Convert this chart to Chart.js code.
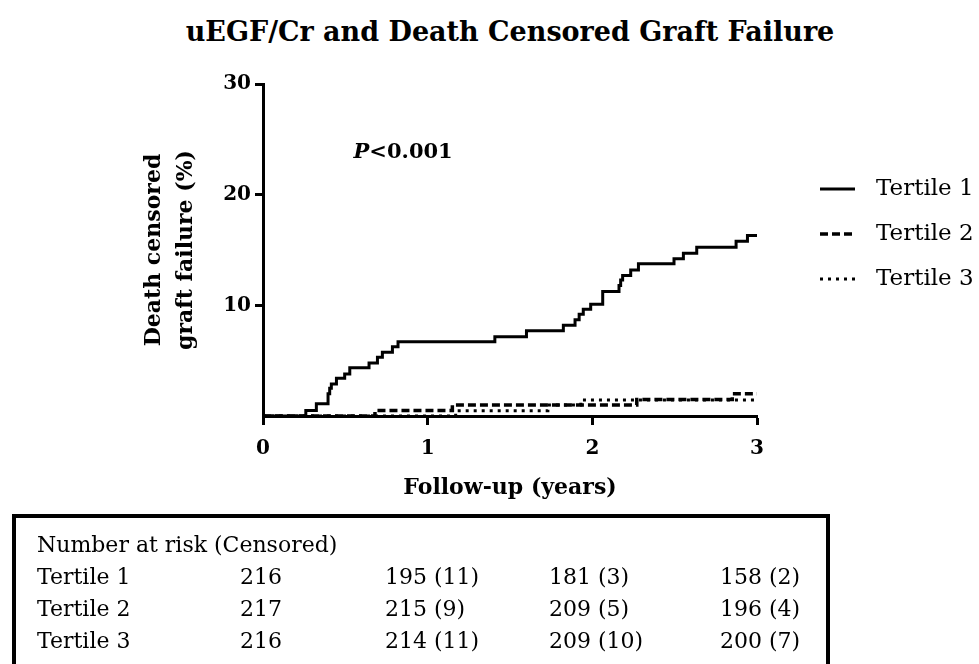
<!DOCTYPE html>
<html>
<head>
<meta charset="utf-8">
<script src="https://cdn.jsdelivr.net/npm/chart.js@4.4.1/dist/chart.umd.min.js"></script>
<style>
    html, body { margin: 0; padding: 0; background: #fff; overflow: hidden; }
    #wrap { position: relative; width: 979px; height: 664px; font-family: "DejaVu Serif", serif; color: #000; }
    #chartBox { position: absolute; left: 0; top: 0; width: 979px; height: 664px; }
    #title { position: absolute; left: 0; top: 17px; width: 1020px; text-align: center; font-weight: bold; font-size: 27px; line-height: 30px; }
    #riskBox { position: absolute; left: 12px; top: 514px; width: 810px; height: 200px; border: 4px solid #000; }
    .cell { position: absolute; font-size: 22px; line-height: 26px; white-space: nowrap; }
</style>
</head>
<body>
<div id="wrap">
    <div id="title">uEGF/Cr and Death Censored Graft Failure</div>
    <div id="chartBox"><canvas id="kmChart"></canvas></div>
    <div id="riskBox"></div>
</div>
<script>
// Kaplan-Meier steps: time (years) and cumulative failure (%)
const seriesNames = ["Tertile 1", "Tertile 2", "Tertile 3"];

const tertile1Times = [0, 0.26, 0.324, 0.395, 0.405, 0.415, 0.446, 0.496, 0.527, 0.644, 0.695, 0.725, 0.786, 0.82,
    1.408, 1.60, 1.824, 1.895, 1.92, 1.945, 1.99, 2.063, 2.162, 2.172, 2.184, 2.233, 2.28, 2.496, 2.553, 2.634,
    2.873, 2.942, 3.0];
const tertile1Values = [0, 0.5, 1.1, 2.0, 2.5, 2.9, 3.4, 3.8, 4.35, 4.8, 5.3, 5.75, 6.25, 6.7,
    7.15, 7.7, 8.2, 8.7, 9.2, 9.65, 10.1, 11.25, 11.8, 12.3, 12.7, 13.2, 13.75, 14.2, 14.7, 15.25,
    15.8, 16.3, 16.3];

const tertile2Times = [0, 0.68, 1.15, 2.27, 2.85, 3.0];
const tertile2Values = [0, 0.5, 1.0, 1.5, 2.0, 2.0];

const tertile3Times = [0, 1.17, 1.73, 1.93, 3.0];
const tertile3Values = [0, 0.48, 1.0, 1.45, 1.45];

const xTickValues = [0, 1, 2, 3];
const yTickValues = [10, 20, 30];
const pValueText = ["P", "<0.001"];
const pValueAt = { x: 0.55, y: 23.8 };

// number at risk table
const riskHeader = "Number at risk (Censored)";
const riskTertile1 = ["216", "195 (11)", "181 (3)", "158 (2)"];
const riskTertile2 = ["217", "215 (9)", "209 (5)", "196 (4)"];
const riskTertile3 = ["216", "214 (11)", "209 (10)", "200 (7)"];

const fontFamily = "'DejaVu Serif', serif";

function toPoints(times, values) {
    return times.map((t, i) => ({ x: t, y: values[i] }));
}

function buildRiskTable() {
    const box = document.getElementById("riskBox");
    const colLeft = [21, 224, 369, 533, 704];
    const rowTop = [14, 46, 78, 110];
    const rows = [
        [riskHeader],
        [seriesNames[0], ...riskTertile1],
        [seriesNames[1], ...riskTertile2],
        [seriesNames[2], ...riskTertile3],
    ];
    rows.forEach((row, r) => {
        row.forEach((text, c) => {
            const cell = document.createElement("div");
            cell.className = "cell";
            cell.style.left = `${colLeft[c]}px`;
            cell.style.top = `${rowTop[r]}px`;
            cell.textContent = text;
            box.appendChild(cell);
        });
    });
}

const datasetStyles = [
    { borderDash: [], borderWidth: 3 },
    { borderDash: [8, 4], borderWidth: 3.5 },
    { borderDash: [3, 5], borderWidth: 3 },
];

const annotationPlugin = {
    id: "kmAnnotations",
    afterDraw(chart) {
        const { ctx, scales } = chart;
        ctx.save();
        ctx.fillStyle = "#000";
        ctx.strokeStyle = "#000";
        ctx.textBaseline = "middle";

        const px = scales.x.getPixelForValue(pValueAt.x);
        const py = scales.y.getPixelForValue(pValueAt.y);
        ctx.font = `italic bold 21px ${fontFamily}`;
        ctx.fillText(pValueText[0], px, py);
        const pWidth = ctx.measureText(pValueText[0]).width;
        ctx.font = `bold 21px ${fontFamily}`;
        ctx.fillText(pValueText[1], px + pWidth, py);

        chart.data.datasets.forEach((dataset, i) => {
            const y = 189 + i * 45;
            ctx.beginPath();
            ctx.setLineDash(dataset.borderDash || []);
            ctx.lineWidth = dataset.borderWidth;
            ctx.moveTo(820, y);
            ctx.lineTo(855, y);
            ctx.stroke();
            ctx.setLineDash([]);
            ctx.font = `23px ${fontFamily}`;
            ctx.fillText(dataset.label, 876, y);
        });
        ctx.restore();
    },
};

const allTimes = [tertile1Times, tertile2Times, tertile3Times];
const allValues = [tertile1Values, tertile2Values, tertile3Values];

const datasets = seriesNames.map((name, i) => ({
    label: name,
    data: toPoints(allTimes[i], allValues[i]),
    showLine: true,
    stepped: "before",
    borderColor: "#000",
    borderWidth: datasetStyles[i].borderWidth,
    borderDash: datasetStyles[i].borderDash,
    borderCapStyle: "butt",
    pointRadius: 0,
    fill: false,
}));

new Chart(document.getElementById("kmChart"), {
    type: "scatter",
    data: { datasets },
    options: {
        responsive: true,
        maintainAspectRatio: false,
        animation: false,
        layout: { padding: { left: 130, top: 84, right: 222, bottom: 158 } },
        plugins: {
            legend: { display: false },
            tooltip: { enabled: false },
            title: { display: false },
        },
        scales: {
            x: {
                type: "linear",
                min: 0,
                max: 3,
                afterFit(scale) { scale.height = 90; },
                afterBuildTicks(scale) { scale.ticks = xTickValues.map((v) => ({ value: v })); },
                grid: { display: true, drawOnChartArea: false, drawTicks: true, tickLength: 9, tickWidth: 3, color: "#000" },
                border: { display: true, width: 3, color: "#000" },
                ticks: { color: "#000", padding: 12, maxRotation: 0, font: { family: fontFamily, size: 20, weight: "bold" } },
                title: {
                    display: true,
                    text: "Follow-up (years)",
                    color: "#000",
                    padding: { top: 0, bottom: 5 },
                    font: { family: fontFamily, size: 22, weight: "bold" },
                },
            },
            y: {
                type: "linear",
                min: 0,
                max: 30,
                afterFit(scale) { scale.width = 133; },
                afterBuildTicks(scale) { scale.ticks = yTickValues.map((v) => ({ value: v })); },
                grid: { display: true, drawOnChartArea: false, drawTicks: true, tickLength: 8, tickWidth: 3, color: "#000" },
                border: { display: true, width: 3, color: "#000" },
                ticks: { color: "#000", padding: 4, font: { family: fontFamily, size: 20, weight: "bold" } },
                title: {
                    display: true,
                    text: ["Death censored", "graft failure (%)"],
                    color: "#000",
                    padding: { top: 9, bottom: 0 },
                    font: { family: fontFamily, size: 22, weight: "bold", lineHeight: 1.42 },
                },
            },
        },
    },
    plugins: [annotationPlugin],
});

buildRiskTable();
</script>
</body>
</html>
